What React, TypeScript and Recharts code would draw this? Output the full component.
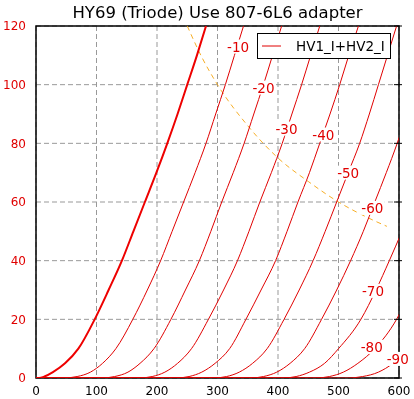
import React from 'react';
import {
  ComposedChart, Line, Scatter, XAxis, YAxis, CartesianGrid, ReferenceArea,
} from 'recharts';

const title = 'HY69 (Triode) Use 807-6L6 adapter';
const legendName = 'HV1_I+HV2_I';

const xTicks = [0, 100, 200, 300, 400, 500, 600];
const yTicks = [0, 20, 40, 60, 80, 100, 120];

// plate current levels (mA) where each curve was read
const ampLevels = [0, 0, 0.5, 2, 5, 10, 20, 30, 40, 50, 60, 70, 80, 90, 100, 110, 120];

// plate voltage at each level, one array per grid voltage
const vg0 = [0, 5, 14, 28, 48, 70, 97, 120, 142, 161, 180, 199, 217, 234, 250, 266, 281];
const vg10 = [0, 45, 68, 90, 110, 132, 160, 184, 206, 225, 244, 263, 281, 297, 313, 328, 343];
const vg20 = [0, 108, 130, 152, 172, 195, 223, 247, 270, 289, 307, 326, 344, 360, 376, 391, 406];
const vg30 = [0, 170, 192, 213, 234, 257, 285, 310, 333, 352, 370, 389, 407, 423, 439, 454, 469];
const vg40 = [0, 231, 253, 274, 296, 320, 347, 372, 396, 415, 433, 452, 469, 486, 502, 517, 533];
const vg50 = [0, 293, 315, 336, 358, 382, 410, 435, 458, 478, 497, 516, 535, 551, 566, 581, 596];
const vg60 = [0, 354, 376, 398, 420, 444, 472, 497, 520, 541, 560, 579, 597, 613];
const vg70 = [0, 408, 430, 452, 477, 500, 537, 562, 584, 605];
const vg80 = [0, 462, 485, 508, 532, 560, 596, 620];
const vg90 = [0, 515, 540, 566, 590, 615];

// 30 W dissipation limit
const limitV = [250, 275, 300, 350, 400, 450, 500, 550, 580];
const limitI = [120, 109, 100, 86, 75, 67, 60, 54.5, 51.7];

const labelText = ['-10', '-20', '-30', '-40', '-50', '-60', '-70', '-80', '-90'];
const labelV = [334, 376, 414, 475, 516, 556, 557, 555, 598];
const labelI = [113, 99, 85, 83, 70, 58, 29.7, 10.6, 6.5];

const toPoints = (xs: number[]) => xs.map((x, i) => ({ x, y: ampLevels[i] }));

const thinCurves = [vg10, vg20, vg30, vg40, vg50, vg60, vg70, vg80, vg90].map(toPoints);
const thickCurve = toPoints(vg0);
const limitCurve = limitV.map((x, i) => ({ x, y: limitI[i] }));
const labelPts = labelText.map((text, i) => ({ x: labelV[i], y: labelI[i], text }));
const rightTicks = yTicks.map((y) => ({ x: 600, y }));

const FONT = '"DejaVu Sans", sans-serif';

const CurveLabel = (props: any) => {
  const { cx, cy, payload } = props;
  const w = payload.text.length * 7.6 + 2;
  return (
    <g>
      <rect x={cx - w / 2} y={cy - 7} width={w} height={14} fill="#fff" />
      <text x={cx} y={cy} textAnchor="middle" dominantBaseline="central"
        fill="#e00000" fontSize={13.5} fontFamily={FONT}>{payload.text}</text>
    </g>
  );
};

const TickMark = (props: any) => {
  const { cx, cy } = props;
  return <line x1={cx - 5} x2={cx + 3} y1={cy} y2={cy} stroke="#000" strokeWidth={1} />;
};

const App: React.FC = () => {
  return (
    <div style={{ position: 'fixed', left: 0, top: 0, width: 414, height: 399, fontFamily: FONT }}>
      <ComposedChart width={414} height={399} margin={{ top: 26, right: 15, bottom: 0, left: 0 }}>
        <CartesianGrid stroke="#999" strokeDasharray="5 3" />
        <XAxis dataKey="x" type="number" domain={[0, 600]} ticks={xTicks} allowDataOverflow
          axisLine={false} tickLine={false} tickMargin={2} height={21}
          tick={{ fill: '#000', fontSize: 12, fontFamily: FONT }} />
        <XAxis xAxisId="lbl" dataKey="x" type="number" domain={[0, 600]} hide />
        <YAxis type="number" domain={[0, 120]} ticks={yTicks} allowDataOverflow width={36}
          axisLine={false} tickLine={false} tickMargin={4}
          tick={{ fill: '#e00000', fontSize: 12, fontFamily: FONT }} />
        <YAxis yAxisId="lbl" type="number" domain={[0, 120]} hide />

        <Line data={limitCurve} dataKey="y" type="monotone" stroke="#f5a000" strokeOpacity={0.85}
          strokeWidth={1} strokeDasharray="5 4" dot={false} isAnimationActive={false} />
        {thinCurves.map((pts, i) => (
          <Line key={i} data={pts} dataKey="y" type="monotone" stroke="#e00000"
            strokeWidth={1} dot={false} isAnimationActive={false} />
        ))}
        <Line data={thickCurve} dataKey="y" type="monotone" stroke="#ee0000"
          strokeWidth={2} dot={false} isAnimationActive={false} />
        <Scatter data={labelPts} dataKey="y" xAxisId="lbl" yAxisId="lbl" shape={CurveLabel}
          isAnimationActive={false} />
        <ReferenceArea x1={0} x2={600} y1={0} y2={120} fill="none" stroke="#000"
          strokeWidth={1.5} ifOverflow="visible" />
        <Scatter data={rightTicks} dataKey="y" xAxisId="lbl" yAxisId="lbl" shape={TickMark}
          isAnimationActive={false} />
      </ComposedChart>

      <div style={{
        position: 'absolute', top: 3, left: 36, width: 363, textAlign: 'center',
        fontSize: 16.5, color: '#000', whiteSpace: 'nowrap',
      }}>{title}</div>

      <div style={{
        position: 'absolute', left: 257, top: 33, width: 132, height: 24,
        border: '1px solid #000', background: '#fff', display: 'flex', alignItems: 'center',
        fontSize: 13.5, color: '#000',
      }}>
        <svg width={38} height={24} style={{ flex: 'none' }}>
          <line x1={4} x2={23} y1={12} y2={12} stroke="#e00000" strokeWidth={1} />
        </svg>
        <span>{legendName}</span>
      </div>
    </div>
  );
};

export default App;
